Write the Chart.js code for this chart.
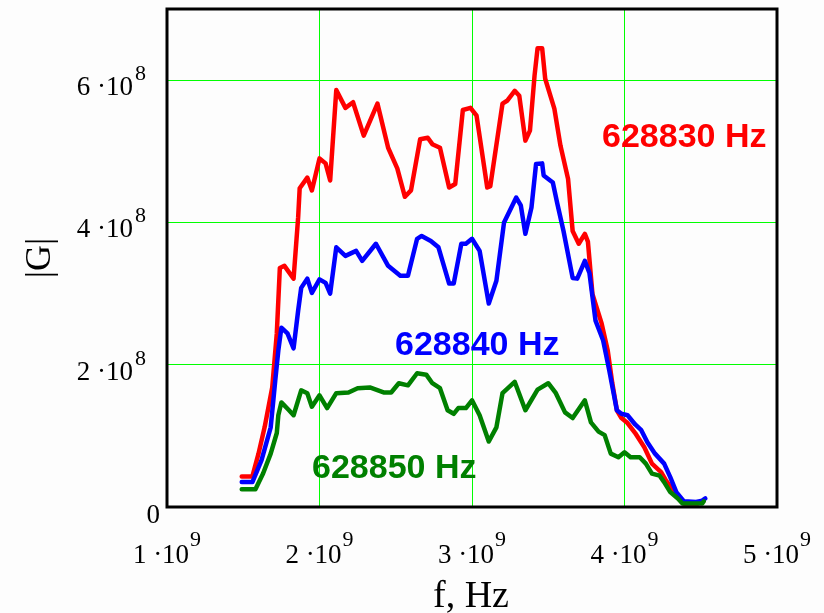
<!DOCTYPE html>
<html>
<head>
<meta charset="utf-8">
<script src="https://cdn.jsdelivr.net/npm/chart.js@4/dist/chart.umd.min.js"></script>
<style>
  html, body { margin: 0; padding: 0; background: #fdfdfd; }
  #wrap { width: 824px; height: 613px; position: relative; }
  canvas { display: block; }
</style>
</head>
<body>
<div id="wrap"><canvas id="chart" width="824" height="613"></canvas></div>
<script>
// Units: frequency in 10^9 Hz, |G| in 10^8
const GHZ = 1e9;
const G_UNIT = 1e8;

// 628830 Hz
const redFreq = [1.49,1.56,1.60,1.64,1.69,1.72,1.74,1.77,1.83,1.86,1.87,1.92,1.95,2.00,2.04,2.07,2.11,2.17,2.22,2.29,
                 2.38,2.45,2.51,2.56,2.60,2.66,2.71,2.74,2.79,2.85,2.89,2.94,2.99,3.03,3.10,3.12,3.20,3.23,3.28,3.31,
                 3.35,3.38,3.41,3.43,3.46,3.48,3.54,3.58,3.63,3.66,3.70,3.74,3.76,3.79,3.85,3.89,3.92,3.95,3.98,4.02,
                 4.07,4.13,4.18,4.24,4.27,4.31,4.35,4.39,4.48,4.52];
const redG    = [0.43,0.43,0.75,1.12,1.68,2.44,3.36,3.39,3.21,4.07,4.48,4.63,4.45,4.90,4.83,4.59,5.86,5.61,5.69,5.22,
                 5.67,5.05,4.76,4.36,4.45,5.17,5.19,5.10,5.05,4.49,4.54,5.58,5.61,5.50,4.49,4.51,5.67,5.71,5.85,5.78,
                 5.15,5.29,6.06,6.45,6.45,6.02,5.60,5.08,4.61,3.88,3.70,3.84,3.73,2.99,2.58,2.20,1.74,1.36,1.25,1.18,
                 1.04,0.84,0.61,0.49,0.38,0.26,0.15,0.05,0.05,0.09];

// 628840 Hz
const blueFreq = [1.49,1.56,1.62,1.68,1.71,1.73,1.75,1.79,1.83,1.86,1.88,1.92,1.95,2.00,2.04,2.07,2.11,2.17,2.24,2.28,
                  2.37,2.45,2.53,2.58,2.64,2.67,2.73,2.78,2.85,2.88,2.93,2.96,3.00,3.05,3.11,3.16,3.21,3.29,3.32,3.35,
                  3.39,3.42,3.46,3.47,3.53,3.56,3.60,3.66,3.69,3.74,3.77,3.81,3.86,3.90,3.95,3.98,4.02,4.07,4.11,4.15,
                  4.20,4.26,4.30,4.34,4.39,4.47,4.51,4.53];
const blueG    = [0.35,0.35,0.66,1.12,1.78,2.20,2.52,2.44,2.23,2.76,3.08,3.21,3.01,3.20,3.15,3.00,3.65,3.53,3.60,3.46,
                  3.70,3.39,3.25,3.25,3.77,3.81,3.74,3.65,3.14,3.14,3.70,3.70,3.77,3.60,2.86,3.18,4.00,4.35,4.24,3.84,
                  4.21,4.82,4.83,4.66,4.56,4.26,3.88,3.22,3.21,3.46,3.29,2.62,2.34,1.92,1.36,1.31,1.29,1.16,1.08,0.91,
                  0.75,0.61,0.42,0.21,0.08,0.07,0.09,0.12];

// 628850 Hz
const greenFreq = [1.49,1.58,1.63,1.68,1.72,1.73,1.75,1.80,1.83,1.88,1.92,1.95,2.00,2.05,2.11,2.19,2.25,2.33,2.42,2.47,
                   2.52,2.58,2.64,2.70,2.74,2.79,2.84,2.88,2.91,2.96,3.00,3.05,3.11,3.16,3.20,3.28,3.35,3.43,3.50,3.55,
                   3.61,3.66,3.74,3.78,3.83,3.87,3.91,3.96,4.00,4.04,4.10,4.14,4.18,4.23,4.26,4.30,4.35,4.38,4.51,4.52];
const greenG    = [0.25,0.25,0.47,0.75,1.04,1.29,1.47,1.36,1.29,1.64,1.60,1.41,1.57,1.39,1.60,1.61,1.67,1.68,1.61,1.61,
                   1.74,1.71,1.88,1.86,1.74,1.67,1.36,1.31,1.39,1.39,1.50,1.29,0.92,1.12,1.60,1.76,1.36,1.65,1.74,1.60,
                   1.33,1.25,1.50,1.19,1.06,1.01,0.75,0.70,0.77,0.70,0.70,0.61,0.47,0.44,0.35,0.21,0.12,0.05,0.05,0.08];

const seriesNames  = ['628830 Hz', '628840 Hz', '628850 Hz'];
const seriesColors = ['#ff0000', '#0000ff', '#008000'];

// Axis ticks (mantissa of a·10^n)
const xTicks = [1, 2, 3, 4, 5];   // ×10^9
const xExp = '9';
const yTicks = [0, 2, 4, 6];      // ×10^8
const yExp = '8';
const X_MIN = 1, X_MAX = 5, Y_MAX = 7;

const xTitle = 'f, Hz';
const yTitle = '|G|';

function toPoints(fs, gs) {
  return fs.map((f, i) => ({ x: f * GHZ, y: gs[i] * G_UNIT }));
}

const SERIF = '"Liberation Serif", "Times New Roman", serif';
const SANS = '"Liberation Sans", Arial, sans-serif';

// Frame, tick labels with powers of ten, axis titles and series captions
const decorPlugin = {
  id: 'decor',
  afterDatasetsDraw(chart) {
    const ctx = chart.ctx;
    const a = chart.chartArea;
    const xs = chart.scales.x, ys = chart.scales.y;
    ctx.save();

    // frame
    ctx.strokeStyle = '#000';
    ctx.lineWidth = 3;
    ctx.strokeRect(a.left, a.top, a.right - a.left, a.bottom - a.top);

    ctx.fillStyle = '#000';
    ctx.textBaseline = 'alphabetic';

    // y tick labels
    yTicks.forEach(v => {
      const py = ys.getPixelForValue(v * G_UNIT);
      if (v === 0) {
        ctx.font = '27px ' + SERIF;
        ctx.textAlign = 'right';
        ctx.fillText('0', 160, py + 16);
        return;
      }
      ctx.font = '27px ' + SERIF;
      ctx.textAlign = 'right';
      ctx.fillText(v + ' \u00B710', 133, py + 15);
      ctx.font = '22px ' + SERIF;
      ctx.textAlign = 'left';
      ctx.fillText(yExp, 135, py);
    });

    // x tick labels
    xTicks.forEach(v => {
      const px = xs.getPixelForValue(v * GHZ);
      const main = v + ' \u00B710';
      ctx.font = '27px ' + SERIF;
      const w = ctx.measureText(main).width;
      ctx.font = '22px ' + SERIF;
      const s = ctx.measureText(xExp).width;
      const start = px - (w + s + 1) / 2;
      ctx.textAlign = 'left';
      ctx.font = '27px ' + SERIF;
      ctx.fillText(main, start, 563);
      ctx.font = '22px ' + SERIF;
      ctx.fillText(xExp, start + w + 1, 546);
    });

    // axis titles
    ctx.font = '38px ' + SERIF;
    ctx.textAlign = 'center';
    ctx.fillText(xTitle, 471, 607);

    ctx.save();
    ctx.translate(41, 258);
    ctx.rotate(-Math.PI / 2);
    ctx.font = '36px ' + SERIF;
    ctx.textAlign = 'center';
    ctx.textBaseline = 'middle';
    ctx.fillText(yTitle, 0, 0);
    ctx.restore();

    // series captions
    const captionPos = [[602, 147], [395, 355], [312, 478]];
    ctx.font = 'bold 34px ' + SANS;
    ctx.textAlign = 'left';
    seriesNames.forEach((name, i) => {
      ctx.fillStyle = seriesColors[i];
      ctx.fillText(name, captionPos[i][0], captionPos[i][1]);
    });

    ctx.restore();
  }
};

const datasets = [
  { label: seriesNames[0], data: toPoints(redFreq, redG),     borderColor: seriesColors[0], order: 3 },
  { label: seriesNames[1], data: toPoints(blueFreq, blueG),   borderColor: seriesColors[1], order: 2 },
  { label: seriesNames[2], data: toPoints(greenFreq, greenG), borderColor: seriesColors[2], order: 1 }
].map(d => Object.assign(d, {
  borderWidth: 4.5,
  pointRadius: 0,
  tension: 0,
  fill: false,
  borderJoinStyle: 'round',
  borderCapStyle: 'round'
}));

new Chart(document.getElementById('chart'), {
  type: 'line',
  data: { datasets },
  options: {
    responsive: false,
    animation: false,
    devicePixelRatio: 1,
    layout: { padding: { left: 167, top: 9, right: 47, bottom: 106 } },
    plugins: { legend: { display: false }, tooltip: { enabled: false } },
    scales: {
      x: {
        type: 'linear',
        min: X_MIN * GHZ,
        max: X_MAX * GHZ,
        afterBuildTicks: s => { s.ticks = xTicks.map(v => ({ value: v * GHZ })); },
        ticks: { display: false },
        grid: { color: '#00ff00', lineWidth: 1, drawTicks: false, tickLength: 0 },
        border: { display: false }
      },
      y: {
        type: 'linear',
        min: 0,
        max: Y_MAX * G_UNIT,
        afterBuildTicks: s => { s.ticks = yTicks.map(v => ({ value: v * G_UNIT })); },
        ticks: { display: false },
        grid: { color: '#00ff00', lineWidth: 1, drawTicks: false, tickLength: 0 },
        border: { display: false }
      }
    }
  },
  plugins: [decorPlugin]
});
</script>
</body>
</html>
